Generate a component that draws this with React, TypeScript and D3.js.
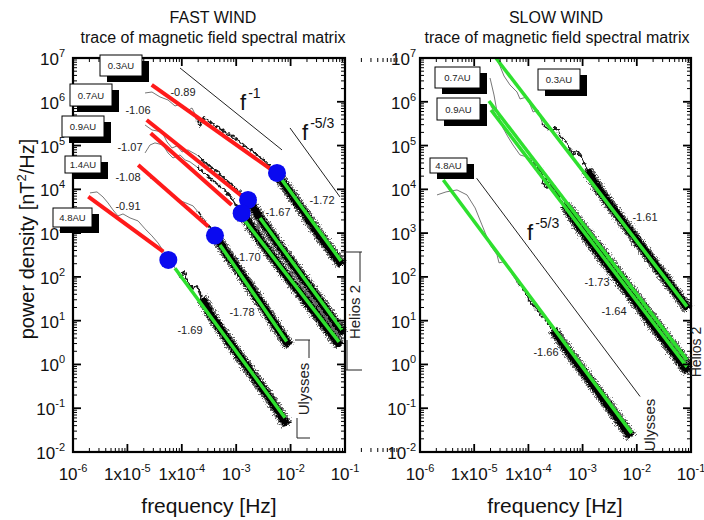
import React from "react";
import * as d3 from "d3";

type Pt = [number, number];
type Scale = d3.ScaleLogarithmic<number, number>;

// ---------------- axis ticks ----------------
const xTickValues = [1e-6, 1e-5, 1e-4, 1e-3, 1e-2, 1e-1];
const xTickBase = ["10", "1x10", "1x10", "10", "10", "10"];
const xTickExp = ["-6", "-5", "-4", "-3", "-2", "-1"];
const yTickValues = [1e7, 1e6, 1e5, 1e4, 1e3, 1e2, 1e1, 1e0, 1e-1, 1e-2];
const yTickExp = ["7", "6", "5", "4", "3", "2", "1", "0", "-1", "-2"];

// ---------------- FAST WIND ----------------
const fastLabels = ["0.3AU", "0.7AU", "0.9AU", "1.4AU", "4.8AU"];
const fastLowSlopes = ["-0.89", "-1.06", "-1.07", "-1.08", "-0.91"];
const fastHighSlopes = ["-1.72", "-1.67", "-1.70", "-1.78", "-1.69"];
const fastLowFits: Pt[][] = [
  [[2.8e-5, 2.42e6], [5.4e-3, 2.37e4]],
  [[2.26e-5, 3.84e5], [1.65e-3, 5.43e3]],
  [[2.68e-5, 1.91e5], [8.26e-4, 4.41e3]],
  [[1.58e-5, 3.61e4], [3.07e-4, 1.41e3]],
  [[1.91e-6, 6.81e3], [4.57e-5, 3.78e2]],
];
const fastHighFits: Pt[][] = [
  [[5.62e-3, 2.37e4], [8.43e-2, 2.32e2]],
  [[2.74e-3, 2.22e3], [8.81e-2, 6.17]],
  [[9.5e-4, 3.76e3], [7.76e-2, 3.28]],
  [[5.04e-4, 5.38e2], [8.47e-3, 3.33]],
  [[7.5e-5, 1.58e2], [7.89e-3, 6.04e-2]],
];
const fastBreaks: Pt[] = [
  [5.62e-3, 2.37e4],
  [1.65e-3, 5.73e3],
  [1.26e-3, 2.85e3],
  [4.07e-4, 8.77e2],
  [5.65e-5, 2.44e2],
];
const fastTraces: Pt[][] = [
  [[2.11e-5, 1.59e6], [2.83e-5, 1.67e6], [3.97e-5, 1.29e6], [5.57e-5, 1.1e6], [7.5e-5, 8.02e5], [9.66e-5, 8.91e5], [1.25e-4, 6.17e5], [1.54e-4, 7.21e5], [1.9e-4, 4.27e5], [2.16e-4, 2.66e5], [2.56e-4, 4.5e5], [3.59e-4, 3.11e5], [5.04e-4, 2.52e5], [7.06e-4, 1.84e5], [9.91e-4, 1.42e5], [1.45e-3, 9.79e4], [2.22e-3, 6.78e4], [3.38e-3, 4.45e4], [5.62e-3, 2.25e4], [1.49e-2, 3.96e3], [3.47e-2, 8.63e2], [8.81e-2, 1.88e2]],
  [[2.11e-5, 2.95e5], [2.83e-5, 2.27e5], [4.33e-5, 2.05e5], [5.35e-5, 1.21e5], [6.61e-5, 8.81e4], [8.17e-5, 9.79e4], [1.01e-4, 7.14e4], [1.3e-4, 7.94e4], [1.9e-4, 6.1e4], [2.45e-4, 4.69e4], [3.3e-4, 3.24e4], [4.62e-4, 2.49e4], [6.5e-4, 1.64e4], [9.12e-4, 1.14e4], [1.28e-3, 7.85e3], [1.72e-3, 5.43e3], [2.74e-3, 2.22e3], [6.38e-3, 4.84e2], [1.49e-2, 1.17e2], [3.47e-2, 28.3], [9.18e-2, 5.0]],
  [[2.11e-5, 6.78e4], [2.6e-5, 1.03e5], [3.21e-5, 1.15e5], [4.51e-5, 1.03e5], [5.57e-5, 6.78e4], [6.89e-5, 5.21e4], [9.27e-5, 6.1e4], [1.15e-4, 4.69e4], [1.42e-4, 4.23e4], [1.9e-4, 3.24e4], [2.45e-4, 2.49e4], [3.3e-4, 1.82e4], [4.44e-4, 1.33e4], [5.97e-4, 9.68e3], [8.02e-4, 6.7e3], [1.26e-3, 2.89e3], [2.74e-3, 7.0e2], [6.38e-3, 1.69e2], [1.49e-2, 43.2], [3.47e-2, 11.0], [8.09e-2, 2.66]],
  [[2.6e-5, 1.82e4], [3.65e-5, 1.56e4], [4.91e-5, 1.08e4], [6.61e-5, 7.06e3], [8.51e-5, 5.73e3], [1.19e-4, 4.89e3], [1.61e-4, 4.18e3], [1.99e-4, 3.05e3], [2.45e-4, 2.11e3], [3.16e-4, 1.39e3], [4.07e-4, 8.63e2], [7.69e-4, 2.72e2], [1.79e-3, 59.2], [4.18e-3, 12.2], [9.35e-3, 2.66]],
  [[2.05e-6, 8.28e3], [2.76e-6, 8.73e3], [3.56e-6, 6.7e3], [4.4e-6, 4.89e3], [5.43e-6, 3.39e3], [6.71e-6, 2.47e3], [8.3e-6, 2.74e3], [1.12e-5, 2.22e3], [1.57e-5, 1.9e3], [2.11e-5, 1.25e3], [2.83e-5, 8.63e2], [3.65e-5, 5.97e2], [4.71e-5, 3.72e2], [6.07e-5, 2.2e2], [7.5e-5, 1.6e2], [9.27e-5, 94.8], [1.1e-4, 1.3e2], [1.3e-4, 72.9], [1.61e-4, 53.2], [1.9e-4, 62.4], [2.35e-4, 33.2], [3.3e-4, 14.3], [7.69e-4, 3.11], [1.79e-3, 0.714], [4.18e-3, 0.164], [8.59e-3, 4.18e-2]],
];
const fastZigFrom = [1.9e-4, 1.9e-4, 1.9e-4, 1.99e-4, 9.27e-5];
const fastBandFrom = [5.62e-3, 1.72e-3, 1.26e-3, 4.07e-4, 2.35e-4];
const fastRefLines: Pt[][] = [
  [[9.27e-5, 5.91e6], [6.95e-3, 7.94e4]],
  [[9.75e-3, 2.52e5], [8.09e-2, 6.7e3]],
];
const fastRefExps = ["-1", "-5/3"];

// ---------------- SLOW WIND ----------------
const slowLabels = ["0.3AU", "0.7AU", "0.9AU", "4.8AU"];
const slowSlopes = ["-1.61", "-1.73", "-1.64", "-1.66"];
const slowFits: Pt[][] = [
  [[2.52e-5, 1e7], [8.43e-2, 21.0]],
  [[1.87e-5, 1.04e6], [8.43e-2, 1.27]],
  [[2.04e-5, 6.5e5], [8.43e-2, 0.88]],
  [[2.69e-6, 1.64e4], [8.05e-3, 2.7e-2]],
];
const slowTraces: Pt[][] = [
  [[2.52e-5, 1e7], [2.99e-5, 6.56e6], [3.55e-5, 3.88e6], [4.58e-5, 2.42e6], [6.17e-5, 1.67e6], [7.0e-5, 1.16e6], [9.42e-5, 1.29e6], [1.22e-4, 5.85e5], [1.5e-4, 6.5e5], [1.86e-4, 2.95e5], [2.51e-4, 2.27e5], [3.37e-4, 2.52e5], [3.83e-4, 1.66e5], [5.15e-4, 1.15e5], [6.65e-4, 6.1e4], [7.89e-4, 7.53e4], [9.75e-4, 5.21e4], [1.21e-3, 2.77e4], [2.09e-3, 9.18e3], [4.9e-3, 2.22e3], [1.75e-2, 2.72e2], [8.81e-2, 18.6]],
  [[1.96e-5, 3.49e6], [2.32e-5, 1.43e6], [2.64e-5, 5.85e5], [3.4e-5, 2.52e5], [4.21e-5, 1.57e5], [5.2e-5, 1.03e5], [7.0e-5, 6.1e4], [9.42e-5, 5.5e4], [1.22e-4, 4.69e4], [1.44e-4, 4.23e4], [1.64e-4, 3.08e4], [1.86e-4, 1.4e4], [2.2e-4, 1.08e4], [2.84e-4, 1.26e4], [3.37e-4, 8.28e3], [3.83e-4, 6.37e3], [5.15e-4, 3.96e3], [8.95e-4, 1.62e3], [2.09e-3, 4.13e2], [4.9e-3, 1.05e2], [1.75e-2, 12.9], [8.81e-2, 0.929]],
  [[2.04e-5, 8.02e5], [2.64e-5, 4.5e5], [3.4e-5, 2.8e5], [4.58e-5, 1.94e5], [5.66e-5, 1.15e5], [7.0e-5, 7.94e4], [8.65e-5, 5.79e4], [1.07e-4, 4.69e4], [1.38e-4, 3.42e4], [1.71e-4, 2.37e4], [2.11e-4, 1.56e4], [2.72e-4, 1.2e4], [3.52e-4, 6.7e3], [4.73e-4, 4.41e3], [8.95e-4, 1.32e3], [2.09e-3, 3.18e2], [4.9e-3, 81.1], [1.75e-2, 9.89], [8.81e-2, 0.678]],
  [[2.06e-6, 7.45e3], [3.02e-6, 8.73e3], [4.82e-6, 9.68e3], [7.36e-6, 7.45e3], [1.04e-5, 3.76e3], [1.39e-5, 1.54e3], [1.96e-5, 5.38e2], [2.64e-5, 3.18e2], [2.87e-5, 2.09e2], [3.4e-5, 2.2e2], [4.21e-5, 1.6e2], [6.17e-5, 76.9], [8.3e-5, 50.5], [1.07e-4, 26.9], [1.64e-4, 15.1], [2.84e-4, 6.17], [5.86e-4, 1.75], [1.37e-3, 0.423], [3.21e-3, 0.102], [7.82e-3, 2.22e-2]],
];
const slowZigFrom = [1.86e-4, 1.64e-4, 1.07e-4, 6.17e-5];
const slowBandFrom = [1.21e-3, 5.15e-4, 4.73e-4, 2.84e-4];
const slowRefLines: Pt[][] = [[[1.11e-5, 1.79e4], [1.15e-2, 0.185]]];
const slowRefExps = ["-5/3"];

// ---------------- layout (annotation placement, px) ----------------
const fastBoxLayout = [[100, 55, 42, 21], [70, 84, 42, 22], [62, 116, 42, 21], [65, 156, 36, 17], [53, 208, 39, 19]];
const fastLowSlopeLayout = [[183, 92], [138, 110], [130, 147], [128, 177], [128, 206]];
const fastHighSlopeLayout = [[322, 200], [278, 212], [248, 257], [242, 312], [190, 330]];
const fastRefLabelLayout = [[240, 110], [302, 140]];
const slowBoxLayout = [[538, 69, 42, 21], [435, 67, 45, 21], [437, 98, 43, 22], [430, 158, 37, 15]];
const slowSlopeLayout = [[645, 217], [597, 282], [614, 311], [546, 352]];
const slowRefLabelLayout = [[527, 240]];

const FONT = "'Liberation Sans', Arial, Helvetica, sans-serif";

function mkLine(x: Scale, y: Scale) {
  return d3.line<Pt>().x((d) => x(d[0])).y((d) => y(d[1]));
}

function Frame({ x, y }: { x: Scale; y: Scale }) {
  const [xa, xb] = x.range();
  const [ya, yb] = y.range();
  const els: React.ReactNode[] = [];
  d3.range(-6, 0).forEach((e) => {
    for (let k = 1; k <= 9; k++) {
      const px = x(k * Math.pow(10, e));
      const L = k === 1 ? 8 : 4;
      const w = k === 1 ? 1.8 : 1;
      els.push(<line key={`xb${e}_${k}`} x1={px} x2={px} y1={ya} y2={ya - L} stroke="#000" strokeWidth={w} />);
      els.push(<line key={`xt${e}_${k}`} x1={px} x2={px} y1={yb} y2={yb + L} stroke="#000" strokeWidth={w} />);
    }
  });
  d3.range(-2, 7).forEach((e) => {
    for (let k = 1; k <= 9; k++) {
      const py = y(k * Math.pow(10, e));
      const L = k === 1 ? 8 : 4;
      const w = k === 1 ? 1.8 : 1;
      els.push(<line key={`yl${e}_${k}`} x1={xa} x2={xa + L} y1={py} y2={py} stroke="#000" strokeWidth={w} />);
      els.push(<line key={`yr${e}_${k}`} x1={xb} x2={xb - L} y1={py} y2={py} stroke="#000" strokeWidth={w} />);
    }
  });
  return (
    <g>
      {els}
      <rect x={xa} y={yb} width={xb - xa} height={ya - yb} fill="none" stroke="#000" strokeWidth={2.2} />
    </g>
  );
}

function TickLabels({ x, y, yRight }: { x: Scale; y: Scale; yRight: number }) {
  return (
    <g fontSize={17} fill="#111">
      {xTickValues.map((v, i) => (
        <text key={`xl${i}`} x={x(v)} y={480} textAnchor="middle">
          {xTickBase[i]}
          <tspan dy={-8} fontSize={11}>{xTickExp[i]}</tspan>
        </text>
      ))}
      {yTickValues.map((v, i) => (
        <text key={`yl${i}`} x={yRight} y={y(v) + 7} textAnchor="end">
          10
          <tspan dy={-8} fontSize={11}>{yTickExp[i]}</tspan>
        </text>
      ))}
    </g>
  );
}

function Trace({ pts, zig, band, x, y }: { pts: Pt[]; zig: number; band: number; x: Scale; y: Scale }) {
  const line = mkLine(x, y);
  const thin = pts.filter((p) => p[0] <= zig * 1.001);
  const mid = pts.filter((p) => p[0] >= zig * 0.999 && p[0] <= band * 1.001);
  const hi = pts.filter((p) => p[0] >= band * 0.999);
  return (
    <g fill="none" strokeLinecap="butt" strokeLinejoin="round">
      <path d={line(thin) || ""} stroke="#666" strokeWidth={0.9} />
      <path d={line(mid) || ""} stroke="#1a1a1a" strokeWidth={1.8} filter="url(#jag)" />
      <path d={line(hi) || ""} stroke="#666" strokeWidth={11} filter="url(#nz)" />
      <path d={line(hi) || ""} stroke="#000" strokeWidth={7.5} filter="url(#nz2)" />
    </g>
  );
}

function Box({ b, label }: { b: number[]; label: string }) {
  const [bx, by, bw, bh] = b;
  return (
    <g>
      <rect x={bx + 7} y={by + 6} width={bw} height={bh} fill="#000" />
      <rect x={bx} y={by} width={bw} height={bh} fill="#fff" stroke="#000" strokeWidth={1} />
      <text x={bx + bw / 2} y={by + bh / 2 + 3.5} textAnchor="middle" fontSize={9.5} fill="#222">{label}</text>
    </g>
  );
}

function RefLabel({ pos, exp }: { pos: number[]; exp: string }) {
  return (
    <text x={pos[0]} y={pos[1]} fontSize={22} fill="#111">
      f
      <tspan dx={2} dy={-12} fontSize={14}>{exp}</tspan>
    </text>
  );
}

export default function App() {
  const xF = d3.scaleLog().domain([1e-6, 1e-1]).range([73, 345]);
  const xS = d3.scaleLog().domain([1e-6, 1e-1]).range([420, 691]);
  const y = d3.scaleLog().domain([1e-2, 1e7]).range([452, 58]);
  const lF = mkLine(xF, y);
  const lS = mkLine(xS, y);

  return (
    <svg width={704} height={520} style={{ position: "absolute", left: 0, top: 0 }} fontFamily={FONT}>
      <defs>
        <filter id="nz" filterUnits="userSpaceOnUse" x="0" y="0" width="704" height="520">
          <feTurbulence type="fractalNoise" baseFrequency="0.7" numOctaves="2" seed="7" result="t" />
          <feDisplacementMap in="SourceGraphic" in2="t" scale="8" xChannelSelector="R" yChannelSelector="G" />
        </filter>
        <filter id="nz2" filterUnits="userSpaceOnUse" x="0" y="0" width="704" height="520">
          <feTurbulence type="fractalNoise" baseFrequency="0.8" numOctaves="1" seed="11" result="t" />
          <feDisplacementMap in="SourceGraphic" in2="t" scale="5" xChannelSelector="R" yChannelSelector="G" />
        </filter>
        <filter id="jag" filterUnits="userSpaceOnUse" x="0" y="0" width="704" height="520">
          <feTurbulence type="fractalNoise" baseFrequency="0.35" numOctaves="1" seed="3" result="t" />
          <feDisplacementMap in="SourceGraphic" in2="t" scale="6" xChannelSelector="R" yChannelSelector="G" />
        </filter>
      </defs>
      <rect x={0} y={0} width={704} height={520} fill="#fff" />

      {/* titles */}
      <g fontSize={16} fill="#111" textAnchor="middle">
        <text x={213} y={23}>FAST WIND</text>
        <text x={213} y={43}>trace of magnetic field spectral matrix</text>
        <text x={556} y={23}>SLOW WIND</text>
        <text x={557} y={43}>trace of magnetic field spectral matrix</text>
      </g>

      {/* ================= FAST ================= */}
      <g>
        {fastTraces.map((t, i) => (
          <Trace key={`ft${i}`} pts={t} zig={fastZigFrom[i]} band={fastBandFrom[i]} x={xF} y={y} />
        ))}
        {fastRefLines.map((r, i) => (
          <path key={`fr${i}`} d={lF(r) || ""} stroke="#222" strokeWidth={1} fill="none" />
        ))}
        {fastLowFits.map((r, i) => (
          <path key={`fl${i}`} d={lF(r) || ""} stroke="#ff1a1a" strokeWidth={4} fill="none" />
        ))}
        {fastHighFits.map((r, i) => (
          <path key={`fh${i}`} d={lF(r) || ""} stroke="#2ee02e" strokeWidth={3.5} fill="none" />
        ))}
        {fastBreaks.map((p, i) => (
          <circle key={`fb${i}`} cx={xF(p[0])} cy={y(p[1])} r={9} fill="#0a0af0" />
        ))}
        <Frame x={xF} y={y} />
        <TickLabels x={xF} y={y} yRight={65} />
        {fastLabels.map((l, i) => (
          <Box key={`fbx${i}`} b={fastBoxLayout[i]} label={l} />
        ))}
        <g fontSize={11} fill="#222" textAnchor="middle">
          {fastLowSlopes.map((s, i) => (
            <text key={`fls${i}`} x={fastLowSlopeLayout[i][0]} y={fastLowSlopeLayout[i][1] + 4}>{s}</text>
          ))}
          {fastHighSlopes.map((s, i) => (
            <text key={`fhs${i}`} x={fastHighSlopeLayout[i][0]} y={fastHighSlopeLayout[i][1] + 4}>{s}</text>
          ))}
        </g>
        {fastRefExps.map((e, i) => (
          <RefLabel key={`frl${i}`} pos={fastRefLabelLayout[i]} exp={e} />
        ))}
        {/* Helios 2 / Ulysses brackets */}
        <g stroke="#222" strokeWidth={1}>
          <line x1={341} x2={362} y1={252} y2={252} />
          <line x1={360} x2={360} y1={252} y2={282} />
          <line x1={347} x2={347} y1={340} y2={370} />
          <line x1={345} x2={362} y1={370} y2={370} />
          <line x1={295} x2={310} y1={340} y2={340} />
          <line x1={309} x2={309} y1={340} y2={358} />
          <line x1={297} x2={297} y1={418} y2={438} />
          <line x1={297} x2={310} y1={438} y2={438} />
        </g>
        <text transform="translate(360,312) rotate(-90)" textAnchor="middle" fontSize={15} fill="#222">Helios 2</text>
        <text transform="translate(309,389) rotate(-90)" textAnchor="middle" fontSize={15} fill="#222">Ulysses</text>
        <text x={209} y={513} textAnchor="middle" fontSize={21} fill="#111">frequency [Hz]</text>
        <text transform="translate(34,239) rotate(-90)" textAnchor="middle" fontSize={20} fill="#111">
          power density [nT
          <tspan dy={-8} fontSize={13}>2</tspan>
          <tspan dy={8}>/Hz]</tspan>
        </text>
      </g>

      {/* ================= SLOW ================= */}
      <g>
        {slowTraces.map((t, i) => (
          <Trace key={`st${i}`} pts={t} zig={slowZigFrom[i]} band={slowBandFrom[i]} x={xS} y={y} />
        ))}
        {slowRefLines.map((r, i) => (
          <path key={`sr${i}`} d={lS(r) || ""} stroke="#222" strokeWidth={1} fill="none" />
        ))}
        {slowFits.map((r, i) => (
          <path key={`sf${i}`} d={lS(r) || ""} stroke="#2ee02e" strokeWidth={3.5} fill="none" />
        ))}
        <Frame x={xS} y={y} />
        <TickLabels x={xS} y={y} yRight={416} />
        {slowLabels.map((l, i) => (
          <Box key={`sbx${i}`} b={slowBoxLayout[i]} label={l} />
        ))}
        <g fontSize={11} fill="#222" textAnchor="middle">
          {slowSlopes.map((s, i) => (
            <text key={`ss${i}`} x={slowSlopeLayout[i][0]} y={slowSlopeLayout[i][1] + 4}>{s}</text>
          ))}
        </g>
        {slowRefExps.map((e, i) => (
          <RefLabel key={`srl${i}`} pos={slowRefLabelLayout[i]} exp={e} />
        ))}
        <text transform="translate(655,425) rotate(-90)" textAnchor="middle" fontSize={15} fill="#222">Ulysses</text>
        <text transform="translate(701,352) rotate(-90)" textAnchor="middle" fontSize={14} fill="#222">Helios 2</text>
        <text x={555} y={513} textAnchor="middle" fontSize={21} fill="#111">frequency [Hz]</text>
      </g>
    </svg>
  );
}
